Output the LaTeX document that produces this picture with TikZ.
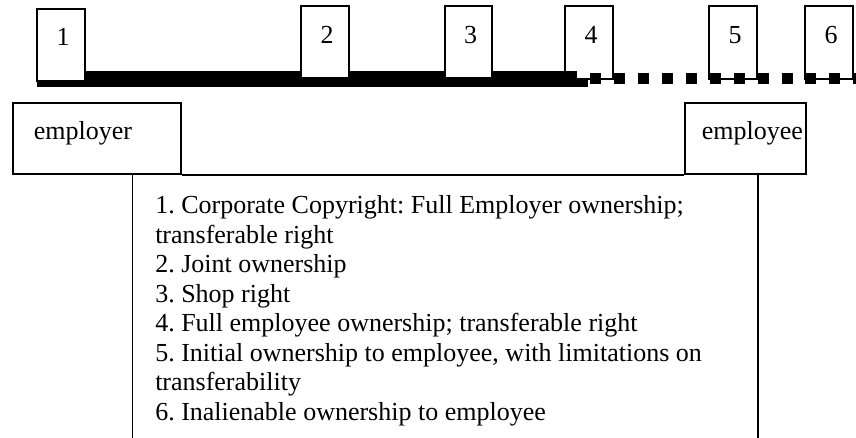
\documentclass[tikz,border=0pt]{standalone}
\usepackage{fontspec}
\setmainfont{Liberation Serif}
\frenchspacing
\begin{document}
\begin{tikzpicture}[x=1pt,y=-1pt,line width=1.5pt,
  numbox/.style={draw,fill=white,minimum width=48pt,minimum height=72pt,inner sep=0pt},
  digit/.style={anchor=base,inner sep=0pt,font=\fontsize{26}{29.5}\selectfont},
  party/.style={draw,fill=white,minimum height=71pt,inner sep=0pt},
  partytext/.style={anchor=base west,inner sep=0pt,font=\fontsize{26}{29.5}\selectfont},
  solidbar/.style={line width=16pt},
  dotbar/.style={line width=11pt,dash pattern=on 11pt off 12.94pt}]
\useasboundingbox (0,0) rectangle (856,437);
% boxes 4-6 (under the bars)
\node[numbox,minimum height=73pt] (b4) at (589,42.5) {};
\node[numbox,minimum height=73pt] (b5) at (733,42.5) {};
\node[numbox,minimum height=73pt] (b6) at (829,42.5) {};
% solid bar
\coordinate (s0) at (37,79);
\coordinate (s1) at (577,79);
\coordinate (s2) at (577,83);
\coordinate (s3) at (588,83);
\draw[solidbar] (s0) -- (s1);
\draw[line width=8pt] (s2) -- (s3);
% boxes 1-3 (over the bar)
\node[numbox] (b1) at (61,45) {};
\node[numbox] (b2) at (325,42) {};
\node[numbox,minimum width=47pt] (b3) at (468.5,42) {};
% dotted bar
\coordinate (d0) at (590,78.5);
\coordinate (d1) at (870,78.5);
\draw[dotbar] (d0) -- (d1);
% digits
\node[digit] (n1) at (63,45) {1};
\node[digit] (n2) at (327,43) {2};
\node[digit] (n3) at (470.5,43) {3};
\node[digit] (n4) at (591,43) {4};
\node[digit] (n5) at (735,43) {5};
\node[digit] (n6) at (831,43) {6};
% parties
\node[party,minimum width=168pt] (er) at (97,138.5) {};
\node[party,minimum width=121pt] (ee) at (745.5,138.5) {};
\node[partytext] (ert) at (33,139) {employer};
\node[partytext] (eet) at (701,139) {employee};
\draw (er.south east) -- (ee.south west);
% list box
\node[minimum width=624pt,minimum height=263pt,inner sep=0pt] (tb) at (445,305.5) {};
\draw (tb.south west) -- (tb.north west);
\draw (tb.north east) -- (tb.south east);
\node[anchor=north west,inner sep=0pt,align=left,
  font=\fontsize{26}{29.5}\selectfont] (items) at (154.5,195)
  {1. Corporate Copyright: Full Employer ownership;\\
   transferable right\\
   2. Joint ownership\\
   3. Shop right\\
   4. Full employee ownership; transferable right\\
   5. Initial ownership to employee, with limitations on\\
   transferability\\
   6. Inalienable ownership to employee};
\end{tikzpicture}
\end{document}
